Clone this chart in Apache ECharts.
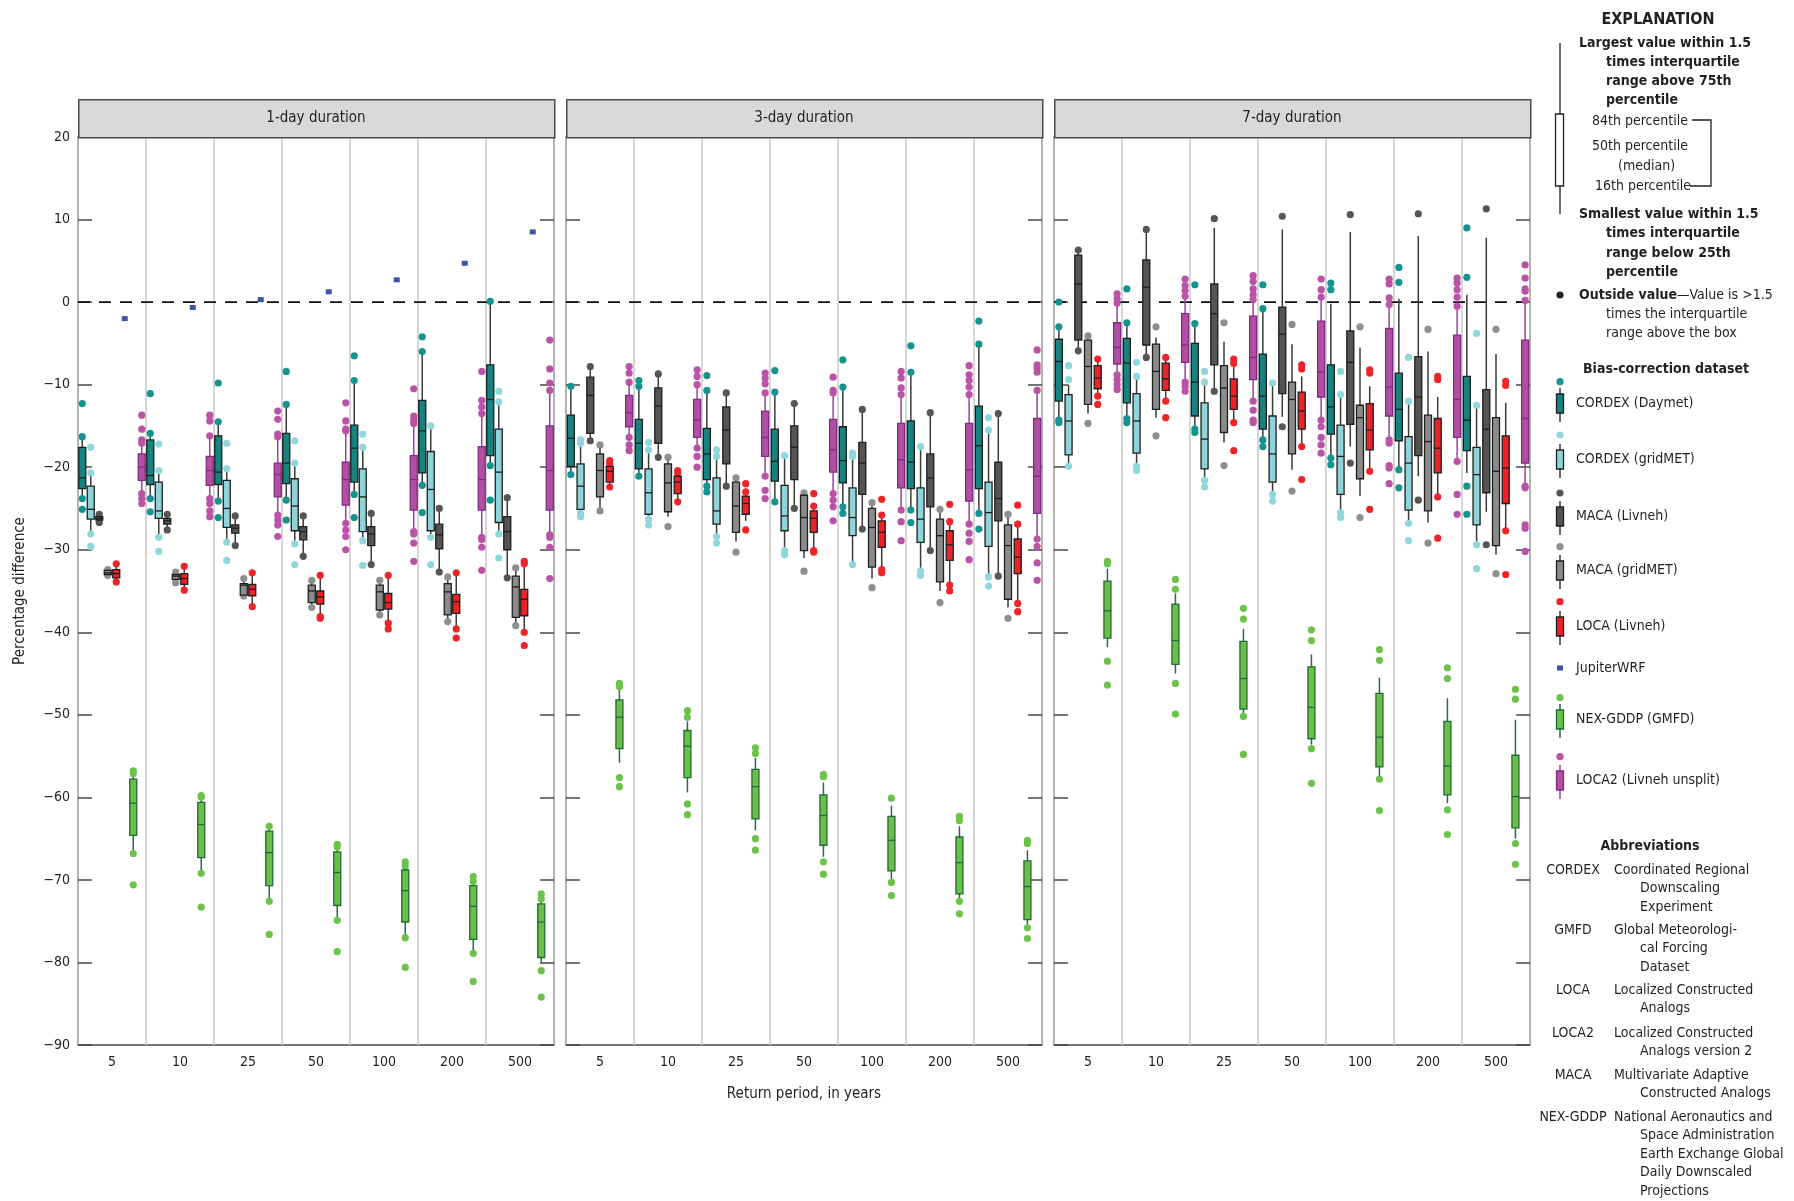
<!DOCTYPE html>
<html><head><meta charset="utf-8">
<script src="https://cdn.jsdelivr.net/npm/echarts@6/dist/echarts.min.js"></script>
<style>html,body{margin:0;padding:0;background:#fff}#c{width:1794px;height:1201px}</style>
</head><body><div id="c"></div>
<script>
// ---------------- DATA ----------------
const periods = ['5', '10', '25', '50', '100', '200', '500'];
const panelTitles = ['1-day duration', '3-day duration', '7-day duration'];
const yTicks = [-90, -80, -70, -60, -50, -40, -30, -20, -10, 0, 10, 20];
// stats per return period: [low whisker, 16th pct, median, 84th pct, high whisker]; *_out = outside values

// 1-day
const d1_cordexDaymet = [[-23.8,-22.6,-21.3,-17.6,-16.3],[-23.8,-22.1,-21.0,-16.7,-15.9],[-24.1,-22.1,-20.6,-16.2,-14.5],[-24.0,-22.0,-19.5,-15.9,-12.4],[-23.3,-21.8,-17.7,-14.9,-9.5],[-22.2,-20.7,-15.6,-11.9,-6.0],[-19.8,-18.6,-11.8,-7.6,0.1]];
const d1_cordexDaymet_out = [[-12.3,-16.3,-23.8,-25.1],[-11.1,-15.9,-23.8,-25.4],[-9.8,-14.5,-24.1,-26.1],[-8.4,-12.4,-24,-26.4],[-6.5,-9.5,-23.3,-26.1],[-4.2,-6,-22.2,-25.5],[0.1,-19.8,-24]];
const d1_cordexGridmet = [[-28.1,-26.3,-25.1,-22.3,-20.7],[-28.5,-26.2,-25.3,-21.8,-20.4],[-29.1,-27.3,-25.0,-21.6,-20.2],[-29.3,-27.7,-24.7,-21.4,-19.5],[-28.9,-27.8,-23.6,-20.2,-17.6],[-28.5,-27.7,-22.7,-18.1,-15.0],[-28.1,-26.7,-20.6,-15.4,-12.1]];
const d1_cordexGridmet_out = [[-17.6,-20.7,-28.1,-29.6],[-17.2,-20.4,-28.5,-30.2],[-17.1,-20.2,-29.1,-31.3],[-16.8,-19.5,-29.3,-31.8],[-16,-17.6,-28.9,-31.9],[-15,-28.5,-31.8],[-10.8,-12.1,-28.1,-31]];
const d1_macaLivneh = [[-26.7,-26.4,-26.2,-26.0,-25.7],[-27.6,-26.9,-26.5,-26.2,-25.7],[-29.5,-28.0,-27.4,-27.0,-25.9],[-30.8,-28.8,-27.8,-27.2,-25.9],[-31.8,-29.5,-28.1,-27.2,-25.6],[-32.7,-29.9,-28.2,-26.9,-25.0],[-33.4,-30.0,-27.8,-26.0,-23.7]];
const d1_macaLivneh_out = [[-25.7,-26.7],[-25.7,-27.6],[-25.9,-29.5],[-25.9,-30.8],[-25.6,-31.8],[-25,-32.7],[-23.7,-33.4]];
const d1_macaGridmet = [[-33.1,-33.0,-32.8,-32.5,-32.4],[-34.0,-33.6,-33.2,-33.0,-32.7],[-35.6,-35.5,-34.3,-34.1,-33.5],[-37.0,-36.4,-35.0,-34.3,-33.7],[-37.9,-37.3,-35.1,-34.3,-33.7],[-38.7,-37.9,-35.1,-34.1,-33.3],[-39.2,-38.2,-34.5,-33.2,-32.2]];
const d1_macaGridmet_out = [[-32.4,-33.1],[-32.7,-34],[-33.5,-35.6],[-33.7,-37],[-33.7,-37.9],[-33.3,-38.7],[-32.2,-39.2]];
const d1_locaLivneh = [[-33.9,-33.4,-32.9,-32.4,-31.7],[-34.9,-34.2,-33.5,-32.9,-32.0],[-36.9,-35.6,-34.8,-34.2,-32.8],[-38.1,-36.6,-35.7,-35.0,-33.1],[-38.9,-37.2,-36.4,-35.3,-33.1],[-39.6,-37.7,-36.3,-35.4,-32.8],[-40.0,-38.0,-36.0,-34.8,-31.7]];
const d1_locaLivneh_out = [[-31.7,-33.9],[-32,-34.9],[-32.8,-36.9],[-33.1,-38.1,-38.3],[-33.1,-38.9,-39.6],[-32.8,-39.6,-40.7],[-31.4,-31.7,-40,-41.6]];
const d1_jupiterWRF = [-2.0, -0.65, 0.3, 1.25, 2.7, 4.7, 8.5];
const d1_nexGddp = [[-66.8,-64.6,-60.7,-57.8,-57.1],[-69.2,-67.3,-63.3,-60.6,-60.0],[-72.6,-70.7,-66.7,-64.1,-63.5],[-74.9,-73.1,-69.1,-66.6,-66.0],[-77.0,-75.1,-71.3,-68.8,-68.3],[-78.9,-77.2,-73.2,-70.7,-70.2],[-80.0,-79.4,-75.1,-72.9,-72.3]];
const d1_nexGddp_out = [[-56.8,-57.1,-66.8,-70.6],[-59.8,-60,-69.2,-73.3],[-63.5,-72.6,-76.6],[-65.7,-66,-74.9,-78.7],[-67.8,-68.3,-77,-80.6],[-69.6,-70.2,-78.9,-82.3],[-71.7,-72.3,-81,-84.2]];
const d1_loca2 = [[-23.2,-21.6,-20.0,-18.4,-17.1],[-23.8,-22.2,-20.4,-18.7,-16.2],[-25.8,-23.6,-20.9,-19.5,-16.3],[-26.8,-24.6,-21.5,-19.4,-15.6],[-27.8,-25.2,-21.5,-18.6,-14.7],[-28.5,-25.2,-21.5,-17.5,-13.5],[-28.2,-25.2,-20.4,-15.0,-10.7]];
const d1_loca2_out = [[-13.7,-15.4,-16.7,-17.1,-23.2,-23.8,-24.4],[-13.7,-14.4,-16.2,-23.8,-24.4,-25.3,-26],[-13.2,-14.2,-16,-16.3,-25.8,-26.4,-27,-28.4],[-12.2,-14.4,-15.4,-15.6,-26.8,-27.6,-28.4,-30],[-10.5,-13.8,-14.3,-14.7,-27.8,-28.1,-29.2,-31.4],[-8.4,-11.9,-12.7,-13.5,-28.5,-28.8,-29.7,-32.5],[-4.6,-8.1,-9.8,-10.7,-28.2,-28.5,-29.7,-33.5]];

// 3-day
const d3_cordexDaymet = [[-20.5,-19.9,-16.5,-13.7,-10.2],[-21.1,-20.2,-17.1,-14.2,-10.2],[-22.3,-21.5,-18.4,-15.3,-10.7],[-24.2,-21.7,-19.3,-15.4,-10.9],[-24.8,-21.9,-19.2,-15.1,-10.3],[-25.2,-22.6,-19.4,-14.4,-8.5],[-25.6,-22.6,-17.4,-12.6,-5.1]];
const d3_cordexDaymet_out = [[-10.2,-20.9],[-9.5,-10.2,-21.1],[-8.9,-10.7,-22.3,-23],[-8.3,-10.9,-24.2],[-7,-10.3,-24.8,-25.6],[-5.3,-8.5,-25.2,-26.7],[-2.3,-5.1,-25.6,-27.5]];
const d3_cordexGridmet = [[-25.6,-25.1,-22.3,-19.6,-17.1],[-26.3,-25.7,-23.1,-20.2,-17.9],[-28.4,-26.9,-25.3,-21.3,-18.7],[-30.1,-27.7,-25.9,-22.2,-18.6],[-31.8,-28.3,-26.1,-22.5,-18.7],[-32.6,-29.1,-26.3,-22.5,-17.5],[-33.3,-29.6,-25.5,-21.8,-15.5]];
const d3_cordexGridmet_out = [[-16.7,-17.1,-25.6,-26],[-17,-17.9,-26.3,-27],[-17.9,-18.7,-28.4,-29.2],[-18.6,-30.1,-30.6],[-18.3,-18.7,-31.8],[-17.5,-32.6,-33.1],[-14,-15.5,-33.3,-34.4]];
const d3_macaLivneh = [[-16.8,-15.9,-11.3,-9.1,-7.8],[-18.8,-17.1,-12.6,-10.4,-8.7],[-22.3,-19.6,-15.5,-12.7,-11.0],[-25.0,-21.5,-17.6,-15.0,-12.3],[-27.5,-23.3,-19.5,-17.0,-13.0],[-30.1,-24.8,-21.3,-18.4,-13.4],[-33.2,-26.5,-23.8,-19.4,-13.5]];
const d3_macaLivneh_out = [[-7.8,-16.8],[-8.7,-18.8],[-11,-22.3],[-12.3,-25],[-13,-27.5],[-13.4,-30.1],[-13.5,-33.2]];
const d3_macaGridmet = [[-25.3,-23.6,-20.4,-18.4,-17.3],[-26.0,-25.4,-21.9,-19.6,-18.8],[-29.0,-27.9,-24.7,-21.8,-21.3],[-31.0,-30.1,-26.1,-23.4,-23.1],[-33.5,-32.1,-27.3,-25.0,-24.3],[-35.0,-33.9,-28.3,-26.3,-25.1],[-37.0,-36.0,-29.5,-27.0,-25.7]];
const d3_macaGridmet_out = [[-17.3,-25.3],[-18.8,-27.2],[-21.3,-30.3],[-23.1,-32.6],[-24.3,-34.6],[-25.1,-36.4],[-25.7,-38.3]];
const d3_locaLivneh = [[-22.4,-21.8,-20.5,-19.9,-19.2],[-24.2,-23.2,-21.8,-21.1,-20.4],[-26.5,-25.7,-24.4,-23.5,-23.0],[-30.1,-27.9,-26.2,-25.3,-24.7],[-32.4,-29.7,-27.9,-26.5,-25.8],[-34.3,-31.3,-29.4,-27.7,-26.6],[-36.5,-32.9,-30.9,-28.7,-26.9]];
const d3_locaLivneh_out = [[-19.2,-19.6,-22.4],[-20.4,-20.7,-24.2],[-22,-23,-27.6],[-23.2,-24.7,-30.1,-30.3],[-23.9,-25.8,-32.4,-32.8],[-24.5,-26.6,-34.3,-35],[-24.6,-26.9,-36.5,-37.5]];
const d3_nexGddp = [[-55.8,-54.1,-50.3,-48.2,-47.0],[-59.4,-57.6,-53.8,-51.9,-50.8],[-64.0,-62.6,-58.7,-56.6,-55.2],[-67.2,-65.8,-62.2,-59.7,-58.2],[-70.0,-68.9,-65.2,-62.3,-61.0],[-72.3,-71.7,-67.9,-64.8,-63.5],[-75.5,-74.8,-70.8,-67.7,-66.4]];
const d3_nexGddp_out = [[-46.2,-46.6,-57.6,-58.7],[-49.5,-50.3,-60.8,-62.1],[-54,-54.7,-65,-66.4],[-57.2,-57.5,-67.8,-69.3],[-60.1,-70.3,-71.9],[-62.3,-62.8,-72.6,-74.1],[-65.2,-65.6,-75.8,-77.1]];
const d3_loca2 = [[-16.4,-15.1,-13.4,-11.3,-9.7],[-17.7,-16.4,-14.3,-11.8,-10.0],[-21.1,-18.7,-16.4,-13.2,-11.0],[-23.2,-20.6,-17.9,-14.2,-11.0],[-25.2,-22.5,-19.1,-14.7,-11.2],[-26.9,-24.1,-20.3,-14.7,-11.2],[-28.7,-25.6,-21.1,-14.1,-10.7]];
const d3_loca2_out = [[-7.8,-8.6,-9.7,-16.4,-17.3,-18],[-8.2,-9,-10,-17.7,-18.7,-20],[-8.6,-9.2,-9.9,-11,-21.1,-22.8,-23.8],[-9.1,-10.7,-11,-23.2,-24,-24.8,-26.5],[-8.4,-9.2,-10.4,-11.2,-25.2,-26.6,-28.9],[-7.7,-8.8,-9.5,-10.3,-11.2,-26.9,-28,-29,-31.2],[-5.8,-7.6,-8,-8.5,-10.7,-28.7,-29.6,-31.6,-33.7]];

// 7-day
const d7_cordexDaymet = [[-14.3,-12.0,-7.2,-4.5,-3.0],[-14.1,-12.2,-7.4,-4.4,-2.5],[-15.4,-13.8,-9.7,-5.0,-2.6],[-16.7,-15.4,-11.4,-6.3,-0.8],[-18.9,-16.0,-12.7,-7.6,-0.2],[-20.3,-16.8,-13.0,-8.6,0.4],[-20.7,-18.0,-14.3,-9.0,0.9]];
const d7_cordexDaymet_out = [[0,-3,-14.3,-14.6],[1.6,-2.5,-14.1,-14.6],[2.1,-2.6,-15.4,-15.8],[2.1,-0.8,-16.7,-17.5],[2.3,1.5,-18.9,-19.7],[4.2,2.4,-20.3,-22.5],[9,3,-22.3,-25.7]];
const d7_cordexGridmet = [[-19.5,-18.5,-14.4,-11.2,-10.0],[-19.9,-18.3,-14.4,-11.1,-9.0],[-21.6,-20.2,-16.6,-12.2,-9.7],[-23.3,-21.8,-18.4,-13.8,-9.8],[-25.5,-23.3,-18.7,-14.9,-11.2],[-26.8,-25.2,-19.5,-16.3,-12.0],[-29.4,-27.0,-20.9,-17.6,-12.5]];
const d7_cordexGridmet_out = [[-7.7,-9.4,-19.9],[-7.3,-9,-19.9,-20.4],[-8.4,-9.7,-21.6,-22.4],[-9.8,-23.3,-24.1],[-8.4,-11.2,-25.5,-26.1],[-6.7,-12,-26.8,-28.9],[-3.8,-12.5,-29.4,-32.3]];
const d7_macaLivneh = [[-5.9,-4.6,2.2,5.7,6.3],[-6.7,-5.2,1.8,5.1,8.8],[-10.8,-7.6,-1.4,2.2,9.0],[-13.9,-11.1,-3.9,-0.6,8.8],[-17.5,-14.8,-7.3,-3.5,8.5],[-21.1,-18.6,-11.5,-6.6,8.0],[-25.4,-23.1,-15.4,-10.6,7.8]];
const d7_macaLivneh_out = [[6.3,-5.9],[8.8,-6.7],[10.1,-10.8],[10.4,-15.1],[10.6,-19.5],[10.7,-24],[11.3,-29.4]];
const d7_macaGridmet = [[-13.5,-12.4,-7.8,-4.6,-4.1],[-14.0,-13.0,-8.4,-5.1,-4.3],[-17.0,-15.8,-10.4,-7.7,-4.8],[-20.3,-18.4,-11.8,-9.7,-5.1],[-23.5,-21.4,-14.0,-12.5,-5.5],[-26.7,-25.3,-16.9,-13.7,-6.0],[-30.6,-29.5,-20.5,-14.0,-6.3]];
const d7_macaGridmet_out = [[-4.1,-14.7],[-3,-16.2],[-2.5,-19.8],[-2.7,-22.9],[-3,-26.1],[-3.3,-29.2],[-3.3,-32.9]];
const d7_locaLivneh = [[-11.4,-10.5,-9.2,-7.7,-6.9],[-12.0,-10.7,-9.3,-7.4,-6.7],[-14.6,-13.0,-11.4,-9.3,-7.4],[-17.5,-15.4,-13.2,-10.9,-9.0],[-20.5,-17.9,-15.5,-12.3,-10.2],[-23.6,-20.7,-17.7,-14.1,-11.5],[-27.7,-24.4,-20.1,-16.2,-12.2]];
const d7_locaLivneh_out = [[-6.9,-11.4,-12.4],[-6.7,-12,-14],[-6.9,-7.4,-14.6,-18],[-7.6,-8.1,-17.5,-21.5],[-8.2,-8.6,-20.5,-25.1],[-9,-9.4,-23.6,-28.6],[-9.6,-10.1,-27.7,-33]];
const d7_nexGddp = [[-41.8,-40.7,-37.4,-33.8,-32.3],[-45.0,-43.9,-41.0,-36.6,-35.3],[-49.8,-49.3,-45.6,-41.1,-39.6],[-53.6,-52.9,-49.1,-44.2,-42.7],[-57.5,-56.3,-52.7,-47.4,-45.5],[-60.7,-59.7,-56.2,-50.8,-48.0],[-65.0,-63.7,-59.9,-54.9,-50.6]];
const d7_nexGddp_out = [[-31.4,-31.7,-43.5,-46.4],[-33.6,-34.8,-46.2,-49.9],[-37.1,-38.4,-50.2,-54.8],[-39.7,-41,-54.1,-58.3],[-42.1,-43.4,-57.8,-61.6],[-44.3,-45.6,-61.5,-64.5],[-46.9,-48.1,-65.6,-68.1]];
const d7_loca2 = [[-8.8,-7.5,-5.5,-2.5,-0.1],[-9.7,-7.3,-5.2,-1.4,0.7],[-12.0,-9.4,-6.7,-1.7,0.3],[-14.3,-11.5,-8.5,-2.3,0.6],[-16.7,-13.8,-10.3,-3.2,-0.3],[-19.3,-16.4,-11.8,-4.0,-0.5],[-22.3,-19.5,-14.1,-4.6,0.2]];
const d7_loca2_out = [[1,0.4,-0.1,-8.8,-9.4,-10,-10.6],[2.8,2,1.4,0.7,-9.7,-10.2,-10.8],[3.2,2.5,1.6,0.9,0.3,-12,-13.1,-14.3,-14.6],[2.8,1.5,0.6,-14.3,-15.1,-16.4,-17.3,-18.3],[2.8,2.2,0.5,-0.3,-16.7,-17.1,-19.8,-20.1,-22],[2.9,2.3,1.5,0.6,-0.5,-19.3,-23.3,-25.7],[4.5,2.9,1.6,1.3,0.2,-22.3,-22.5,-27,-27.4,-30.2]];

const datasetNames = ['CORDEX (Daymet)', 'CORDEX (gridMET)', 'MACA (Livneh)', 'MACA (gridMET)', 'LOCA (Livneh)', 'JupiterWRF', 'NEX-GDDP (GMFD)', 'LOCA2 (Livneh unsplit)'];

// ---------------- STYLE / LAYOUT ----------------
const FONT = "'Liberation Sans Narrow','DejaVu Sans Condensed','Roboto Condensed',Roboto,sans-serif";
const TXT = '#231f20';
const STY = {
  'CORDEX (Daymet)':   {fill:'#17827f', stroke:'#1e1e1e', whisker:'#3a3a3a', dot:'#149491'},
  'CORDEX (gridMET)':  {fill:'#8dd3d8', stroke:'#1e1e1e', whisker:'#3a3a3a', dot:'#8ed8dd'},
  'MACA (Livneh)':     {fill:'#545454', stroke:'#1e1e1e', whisker:'#3a3a3a', dot:'#555555'},
  'MACA (gridMET)':    {fill:'#8b8b8b', stroke:'#1e1e1e', whisker:'#3a3a3a', dot:'#8e8e8e'},
  'LOCA (Livneh)':     {fill:'#ec2227', stroke:'#1e1e1e', whisker:'#3a3a3a', dot:'#ef2429'},
  'JupiterWRF':        {fill:'#3b55a5'},
  'NEX-GDDP (GMFD)':   {fill:'#6abf45', stroke:'#1f6a3a', whisker:'#2a6b42', dot:'#6cc24a'},
  'LOCA2 (Livneh unsplit)': {fill:'#b34fa0', stroke:'#7f2a88', whisker:'#9a3f9c', dot:'#b953a5'}
};
const panelLeft = [78, 566, 1054];
const panelW = 476, plotTop = 137, plotH = 908, headH = 38;

const panelSets = [
  [[d1_cordexDaymet,d1_cordexDaymet_out],[d1_cordexGridmet,d1_cordexGridmet_out],[d1_macaLivneh,d1_macaLivneh_out],[d1_macaGridmet,d1_macaGridmet_out],[d1_locaLivneh,d1_locaLivneh_out],[d1_jupiterWRF,null],[d1_nexGddp,d1_nexGddp_out],[d1_loca2,d1_loca2_out]],
  [[d3_cordexDaymet,d3_cordexDaymet_out],[d3_cordexGridmet,d3_cordexGridmet_out],[d3_macaLivneh,d3_macaLivneh_out],[d3_macaGridmet,d3_macaGridmet_out],[d3_locaLivneh,d3_locaLivneh_out],null,[d3_nexGddp,d3_nexGddp_out],[d3_loca2,d3_loca2_out]],
  [[d7_cordexDaymet,d7_cordexDaymet_out],[d7_cordexGridmet,d7_cordexGridmet_out],[d7_macaLivneh,d7_macaLivneh_out],[d7_macaGridmet,d7_macaGridmet_out],[d7_locaLivneh,d7_locaLivneh_out],null,[d7_nexGddp,d7_nexGddp_out],[d7_loca2,d7_loca2_out]]
];

const minusFmt = v => v < 0 ? '\u2212' + Math.abs(v) : String(v);

const grids = [], xAxes = [], yAxes = [], series = [], graphics = [];

panelSets.forEach((sets, p) => {
  grids.push({left: panelLeft[p], top: plotTop, width: panelW, height: plotH, show: true, borderColor: '#4a4a4a', borderWidth: 1.5, backgroundColor: 'rgba(0,0,0,0)'});
  xAxes.push({
    type: 'category', gridIndex: p, data: periods, boundaryGap: true,
    axisLine: {show: false}, axisTick: {show: false},
    axisLabel: {fontFamily: FONT, fontSize: 14, color: TXT, margin: 10},
    splitLine: {show: true, interval: 0, lineStyle: {color: '#c9c9c9', width: 1.5}},
    name: p === 1 ? 'Return period, in years' : '', nameLocation: 'middle', nameGap: 42,
    nameTextStyle: {fontFamily: FONT, fontSize: 15, color: TXT}
  });
  const yBase = {type: 'value', gridIndex: p, min: yTicks[0], max: yTicks[yTicks.length - 1], interval: 10,
    axisLine: {show: false}, splitLine: {show: false},
    axisTick: {show: true, inside: true, length: 14, lineStyle: {color: '#4a4a4a', width: 1.5}}};
  yAxes.push(Object.assign({}, yBase, {position: 'left',
    axisLabel: {show: p === 0, fontFamily: FONT, fontSize: 14, color: TXT, margin: 8, formatter: minusFmt},
    name: p === 0 ? 'Percentage difference' : '', nameLocation: 'middle', nameGap: 50, nameRotate: 90,
    nameTextStyle: {fontFamily: FONT, fontSize: 15, color: TXT}}));
  yAxes.push(Object.assign({}, yBase, {position: 'right', axisLabel: {show: false}}));
  const yIdx = p * 2;

  // dashed zero line
  series.push({
    type: 'custom', xAxisIndex: p, yAxisIndex: yIdx, z: 1, silent: true, data: [[0, 0]],
    renderItem: (params, api) => {
      const cs = params.coordSys;
      const y = api.coord([0, api.value(1)])[1];
      return {type: 'line', shape: {x1: cs.x, y1: y, x2: cs.x + cs.width, y2: y},
        style: {stroke: '#111', lineWidth: 1.6, lineDash: [12, 9]}};
    }
  });

  const active = sets.map((s, k) => s ? k : -1).filter(k => k >= 0);
  const nSlots = active.length;
  active.forEach((k, slot) => {
    const name = datasetNames[k];
    const st = STY[name];
    const [vals, outs] = sets[k];
    if (name === 'JupiterWRF') {
      series.push({
        type: 'custom', name, xAxisIndex: p, yAxisIndex: yIdx, z: 3,
        data: vals.map((v, i) => [i, v]), encode: {x: 0, y: 1},
        renderItem: (params, api) => {
          const i = api.value(0);
          const bw = api.size([1, 0])[0];
          const c = api.coord([i, api.value(1)]);
          const cx = c[0] - bw / 2 + bw / nSlots * (slot + 0.5);
          return {type: 'rect', shape: {x: cx - 3, y: c[1] - 2.5, width: 6, height: 5}, style: {fill: st.fill}};
        }
      });
      return;
    }
    series.push({
      type: 'custom', name, xAxisIndex: p, yAxisIndex: yIdx, z: 3,
      data: vals.map((s, i) => [i].concat(s)), encode: {x: 0, y: [1, 2, 3, 4, 5]},
      renderItem: (params, api) => {
        const i = api.value(0);
        const bw = api.size([1, 0])[0];
        const c0 = api.coord([i, 0]);
        const cx = c0[0] - bw / 2 + bw / nSlots * (slot + 0.5);
        const Y = d => api.coord([i, api.value(d)])[1];
        const lo = Y(1), q1 = Y(2), md = Y(3), q3 = Y(4), hi = Y(5);
        const w = 7;
        const ch = [];
        ch.push({type: 'line', shape: {x1: cx, y1: hi, x2: cx, y2: lo}, style: {stroke: st.whisker, lineWidth: 1.5}});
        outs[params.dataIndex].forEach(v => {
          const pt = api.coord([i, v]);
          ch.push({type: 'circle', shape: {cx: cx, cy: pt[1], r: 3.6}, style: {fill: st.dot}});
        });
        ch.push({type: 'rect', shape: {x: cx - w / 2, y: q3, width: w, height: Math.max(q1 - q3, 1)}, style: {fill: st.fill, stroke: st.stroke, lineWidth: 1.3}});
        ch.push({type: 'line', shape: {x1: cx - w / 2, y1: md, x2: cx + w / 2, y2: md}, style: {stroke: st.stroke, lineWidth: 1.3}});
        return {type: 'group', children: ch};
      }
    });
  });

  // panel header
  graphics.push({type: 'rect', left: panelLeft[p], top: plotTop - headH, z: 10,
    shape: {width: panelW, height: headH}, style: {fill: '#d9d9d9', stroke: '#4a4a4a', lineWidth: 1.5}});
  graphics.push({type: 'text', x: panelLeft[p] + panelW / 2, y: plotTop - headH / 2, z: 11,
    style: {text: panelTitles[p], font: '15px ' + FONT, fill: TXT, textAlign: 'center', textVerticalAlign: 'middle', align: 'center', verticalAlign: 'middle'}});
});

// ---------------- EXPLANATION (legend) ----------------
function T(x, y, text, opt) {
  opt = opt || {};
  graphics.push({type: 'text', x, y, z: 20, style: {text, font: (opt.bold ? 'bold ' : '') + (opt.size || 14) + 'px ' + FONT,
    fill: TXT, textAlign: opt.align || 'left', align: opt.align || 'left', textVerticalAlign: 'middle', verticalAlign: 'middle'}});
}
function L(x1, y1, x2, y2, color, lw) {
  graphics.push({type: 'line', z: 20, shape: {x1, y1, x2, y2}, style: {stroke: color || '#222', lineWidth: lw || 1.3}});
}
T(1658, 20, 'EXPLANATION', {bold: true, size: 16, align: 'center'});
L(1560, 43, 1560, 214);
graphics.push({type: 'rect', z: 21, shape: {x: 1555.5, y: 114, width: 8, height: 72}, style: {fill: '#fff', stroke: '#222', lineWidth: 1.3}});
L(1555.5, 146, 1563.5, 146);
T(1579, 43, 'Largest value within 1.5', {bold: true});
T(1606, 62, 'times interquartile', {bold: true});
T(1606, 81, 'range above 75th', {bold: true});
T(1606, 100, 'percentile', {bold: true});
T(1592, 121, '84th percentile');
T(1592, 146, '50th percentile');
T(1618, 166, '(median)');
T(1595, 186, '16th percentile');
graphics.push({type: 'polyline', z: 20, shape: {points: [[1692, 120], [1711, 120], [1711, 186], [1690, 186]]}, style: {stroke: '#222', lineWidth: 1.3, fill: null}});
T(1579, 214, 'Smallest value within 1.5', {bold: true});
T(1606, 233, 'times interquartile', {bold: true});
T(1606, 253, 'range below 25th', {bold: true});
T(1606, 272, 'percentile', {bold: true});
graphics.push({type: 'circle', z: 20, shape: {cx: 1560, cy: 295, r: 3.6}, style: {fill: '#222'}});
graphics.push({type: 'text', x: 1579, y: 295, z: 20, style: {
  text: '{b|Outside value}{n|\u2014Value is >1.5}', textVerticalAlign: 'middle', verticalAlign: 'middle',
  rich: {b: {font: 'bold 14px ' + FONT, fill: TXT, color: TXT}, n: {font: '14px ' + FONT, fill: TXT, color: TXT}}}});
T(1606, 314, 'times the interquartile');
T(1606, 333, 'range above the box');
T(1583, 369, 'Bias-correction dataset', {bold: true});

const legendRows = [[381.7, 403], [435, 459], [493, 516], [546.7, 570], [601.7, 626], [null, 668], [697.7, 719], [756.7, 780]];
datasetNames.forEach((name, k) => {
  const st = STY[name];
  const [yd, yb] = legendRows[k];
  if (name === 'JupiterWRF') {
    graphics.push({type: 'rect', z: 20, shape: {x: 1557, y: yb - 2.5, width: 6, height: 5}, style: {fill: st.fill}});
  } else {
    graphics.push({type: 'circle', z: 20, shape: {cx: 1560, cy: yd, r: 3.6}, style: {fill: st.dot}});
    L(1560, yb - 15, 1560, yb + 19, st.whisker, 1.5);
    graphics.push({type: 'rect', z: 21, shape: {x: 1556.5, y: yb - 9, width: 7, height: 19}, style: {fill: st.fill, stroke: st.stroke, lineWidth: 1.3}});
    L(1556.5, yb, 1563.5, yb, st.stroke, 1.3);
  }
  T(1576, yb, name, {size: 14});
});

T(1650, 846, 'Abbreviations', {bold: true, align: 'center'});
const abbrevs = [
  ['CORDEX', ['Coordinated Regional', 'Downscaling', 'Experiment'], 870],
  ['GMFD', ['Global Meteorologi-', 'cal Forcing', 'Dataset'], 930],
  ['LOCA', ['Localized Constructed', 'Analogs'], 990],
  ['LOCA2', ['Localized Constructed', 'Analogs version 2'], 1033],
  ['MACA', ['Multivariate Adaptive', 'Constructed Analogs'], 1075],
  ['NEX-GDDP', ['National Aeronautics and', 'Space Administration', 'Earth Exchange Global', 'Daily Downscaled', 'Projections'], 1117]
];
abbrevs.forEach(([ab, lines, y0]) => {
  T(1573, y0, ab, {align: 'center'});
  lines.forEach((ln, j) => T(j === 0 ? 1614 : 1640, y0 + j * 18.5, ln));
});

const chart = echarts.init(document.getElementById('c'), null, {renderer: 'canvas'});
chart.setOption({
  animation: false, backgroundColor: '#fff',
  grid: grids, xAxis: xAxes, yAxis: yAxes, series: series, graphic: graphics
});
</script></body></html>
